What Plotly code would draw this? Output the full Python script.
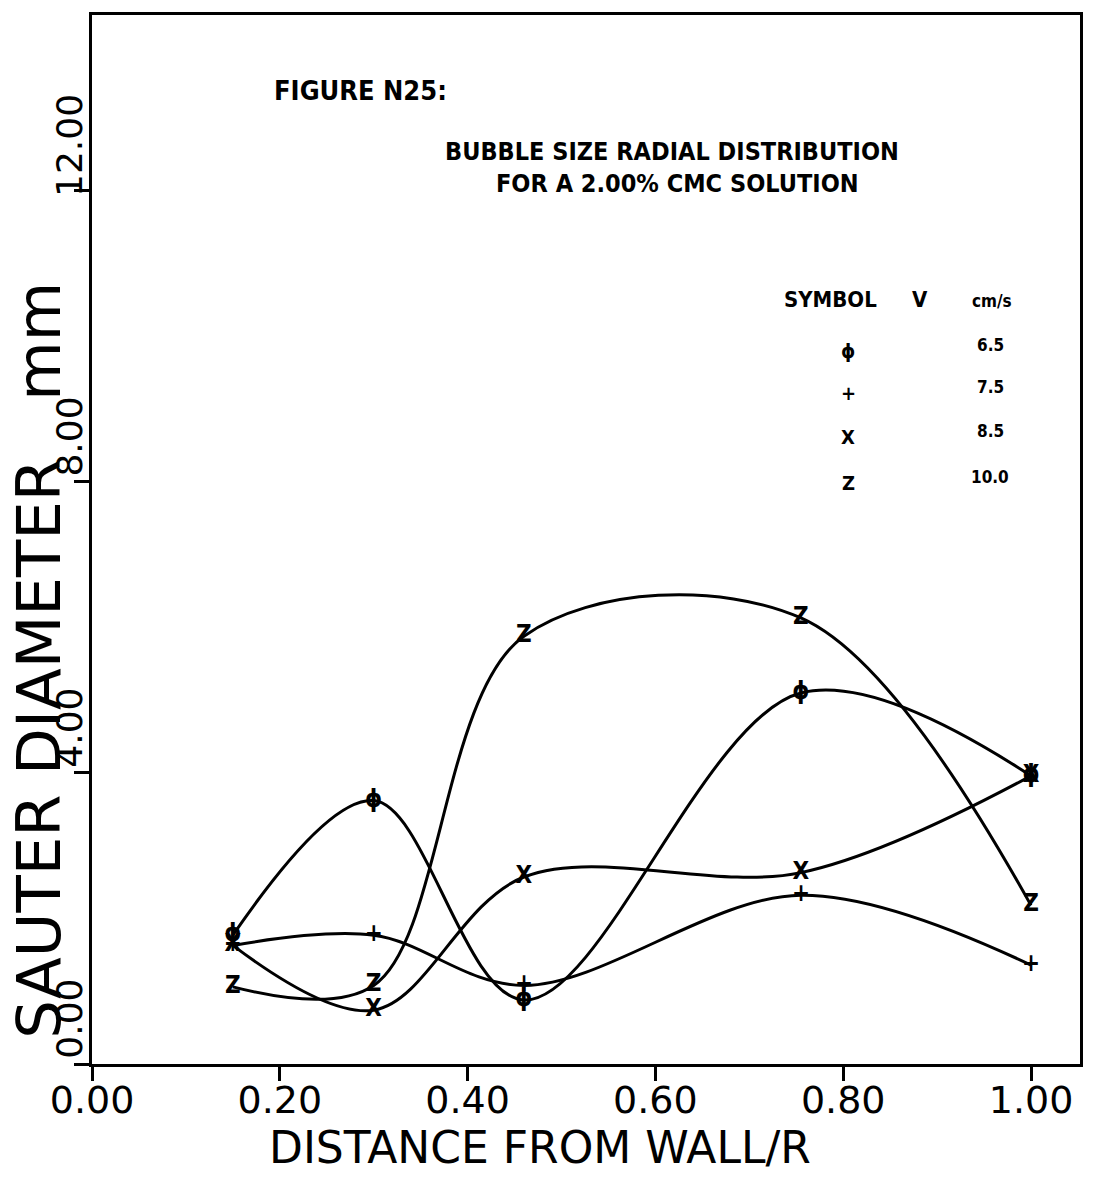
import plotly.graph_objects as go

# ---- data ----
r_over_R = [0.15, 0.30, 0.46, 0.755, 1.00]
d_v65 = [1.77, 3.62, 0.88, 5.10, 3.96]
d_v75 = [1.63, 1.77, 1.08, 2.32, 1.36]
d_v85 = [1.63, 0.74, 2.57, 2.63, 3.96]
d_v100 = [1.06, 1.08, 5.88, 6.13, 2.18]
series = [d_v65, d_v75, d_v85, d_v100]
velocities = ["6.5", "7.5", "8.5", "10.0"]
symbols = ["ϕ", "+", "X", "Z"]
x_ticks = [0, 0.2, 0.4, 0.6, 0.8, 1.0]
x_tick_labels = ["0.00", "0.20", "0.40", "0.60", "0.80", "1.00"]
y_ticks = [0, 4, 8, 12]
y_tick_labels = ["0.00", "4.00", "8.00", "12.00"]

W, H = 1096, 1199
L, R, T, B = 92, 1080, 13, 1064  # plot area in pixels


def px(x):
    return (x - L) / (R - L)


def py(y):
    return (B - y) / (B - T)


BOLDN = "DejaVu Sans Condensed, DejaVu Sans, sans-serif"
REG = "DejaVu Sans, sans-serif"

fig = go.Figure()
for vals, sym, v in zip(series, symbols, velocities):
    fig.add_trace(go.Scatter(
        x=r_over_R, y=vals, mode="lines+text", name=f"{v} cm/s",
        text=[sym] * len(vals), textposition="middle center",
        textfont=dict(family=BOLDN, size=24, color="black", weight="bold"),
        line=dict(color="black", width=3, shape="spline", smoothing=1.0),
        showlegend=False, cliponaxis=False,
    ))

ann = []
# titles
ann.append(dict(x=px(272), y=py(89), text="FIGURE N25:", xanchor="left", yanchor="middle",
                font=dict(family=BOLDN, size=27, color="black", weight="bold")))
ann.append(dict(x=px(672), y=py(150), text="BUBBLE SIZE RADIAL DISTRIBUTION", xanchor="center",
                yanchor="middle", font=dict(family=BOLDN, size=25, color="black", weight="bold")))
ann.append(dict(x=px(677), y=py(182), text="FOR A 2.00% CMC SOLUTION", xanchor="center",
                yanchor="middle", font=dict(family=BOLDN, size=25, color="black", weight="bold")))
# legend header
ann.append(dict(x=px(830), y=py(298), text="SYMBOL", xanchor="center", yanchor="middle",
                font=dict(family=BOLDN, size=22, color="black", weight="bold")))
ann.append(dict(x=px(920), y=py(298), text="V", xanchor="center", yanchor="middle",
                font=dict(family=BOLDN, size=22, color="black", weight="bold")))
ann.append(dict(x=px(992), y=py(300), text="cm/s", xanchor="center", yanchor="middle",
                font=dict(family=BOLDN, size=17, color="black", weight="bold")))
leg_y = [350, 392, 436, 482]
for sym, v, yy in zip(symbols, velocities, leg_y):
    ann.append(dict(x=px(848), y=py(yy), text=sym, xanchor="center", yanchor="middle",
                    font=dict(family=BOLDN, size=20, color="black", weight="bold")))
    ann.append(dict(x=px(990), y=py(yy - 6), text=v, xanchor="center", yanchor="middle",
                    font=dict(family=BOLDN, size=17, color="black", weight="bold")))
# axis titles
ann.append(dict(x=px(540), y=py(1148), text="DISTANCE FROM WALL/R", xanchor="center",
                yanchor="middle", font=dict(family=REG, size=44, color="black")))
ann.append(dict(x=px(39), y=py(660), text="SAUTER\u00a0DIAMETER\u00a0\u00a0\u00a0mm", textangle=-90,
                xanchor="center", yanchor="middle",
                font=dict(family=REG, size=61, color="black")))
for a in ann:
    a.update(xref="paper", yref="paper", showarrow=False)

fig.update_layout(
    width=W, height=H,
    margin=dict(l=L, r=W - R, t=T, b=H - B, pad=0),
    paper_bgcolor="white", plot_bgcolor="white",
    annotations=ann,
    xaxis=dict(range=[0, (R - L) / 939.0], tickvals=x_ticks, ticktext=x_tick_labels,
               ticks="outside", ticklen=14, tickwidth=3, tickcolor="black",
               showline=True, linecolor="black", linewidth=3, mirror=True,
               showgrid=False, zeroline=False, ticklabelstandoff=-14,
               tickfont=dict(family=REG, size=38, color="black")),
    yaxis=dict(range=[0, (B - T) / 72.9], tickvals=y_ticks, ticktext=y_tick_labels,
               ticks="outside", ticklen=15, tickwidth=3, tickcolor="black",
               showline=True, linecolor="black", linewidth=3, mirror=True,
               showgrid=False, zeroline=False, tickangle=-90,
               ticklabelshift=-40, ticklabelstandoff=-22,
               tickfont=dict(family=REG, size=36, color="black")),
)

fig.write_html("out.html", config={"displayModeBar": False},
               post_script="document.body.style.margin='0';")
